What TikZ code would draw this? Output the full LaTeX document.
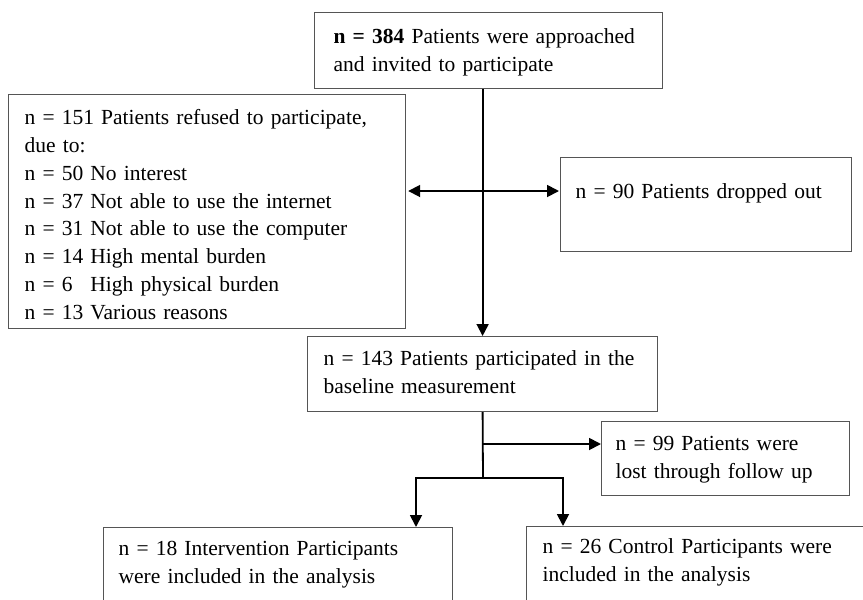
\documentclass[tikz,border=0pt]{standalone}
\usepackage{fontspec}
\setmainfont{Liberation Serif}
\definecolor{boxline}{RGB}{85, 85, 85}
\usetikzlibrary{arrows.meta, calc}
\tikzset{
    x=1pt, y=-1pt,
    flowbox/.style={draw=boxline, line width=1.2pt, anchor=north west,
        align=left, inner ysep=0pt, font=\fontsize{21.5}{27.8}\selectfont},
    flowline/.style={line width=1.8pt, black},
    flowarrow/.style={flowline, -{Triangle[length=12pt, width=12pt]}},
    twoarrow/.style={flowline, {Triangle[length=12pt, width=12pt]}-{Triangle[length=12pt, width=12pt]}},
}

\begin{document}
\begin{tikzpicture}
        \useasboundingbox (0, 0) rectangle (863, 600);
        \clip (0, 0) rectangle (863, 600);
        \node[flowbox, inner xsep=19pt, text width=310pt, text height=31pt,
            text depth=45pt] (approached) at (314, 12)
            {\textbf{n = 384} Patients were approached\\
            and invited to participate};
        \node[flowbox, inner xsep=16pt, text width=365pt, text height=30pt,
            text depth=204pt] (refused) at (8, 94)
            {n = 151 Patients refused to participate,\\
            due to:\\
            n = 50 No interest\\
            n = 37 Not able to use the internet\\
            n = 31 Not able to use the computer\\
            n = 14 High mental burden\\
            n = 6\hphantom{0} High physical burden\\
            n = 13 Various reasons};
        \node[flowbox, inner xsep=15pt, text width=261pt, text height=41pt,
            text depth=53pt] (dropped) at (560, 157)
            {n = 90 Patients dropped out};
        \node[flowbox, inner xsep=16pt, text width=318pt, text height=29pt,
            text depth=46pt] (baseline) at (307, 336)
            {n = 143 Patients participated in the\\
            baseline measurement};
        \node[flowbox, inner xsep=14pt, text width=220pt, text height=29pt,
            text depth=45pt] (lost) at (601, 421)
            {n = 99 Patients were\\
            lost through follow up};
        \node[flowbox, inner xsep=15pt, text width=319pt, text height=28pt,
            text depth=70pt] (intervention) at (103, 527)
            {n = 18 Intervention Participants\\
            were included in the analysis};
        \node[flowbox, inner xsep=16pt, text width=330pt, text height=27pt,
            text depth=70pt] (control) at (526, 526)
            {n = 26 Control Participants were\\
            included in the analysis};
        \coordinate (split) at (483, 191);
        \coordinate (lostjoin) at (483, 444);
        \coordinate (fork) at (483, 478);
        \coordinate (forkleft) at (416, 478);
        \coordinate (forkright) at (563, 478);
        \draw[flowarrow] (approached.south -| baseline.north) -- (baseline.north);
        \draw[twoarrow] ($(refused.east |- split) + (2, 0)$)
            -- ($(dropped.west |- split) + (-1, 0)$);
        \draw[flowline] (baseline.south) -- (fork);
        \draw[flowarrow] (lostjoin) -- (lost.west |- lostjoin);
        \draw[flowarrow] (fork) -- (forkleft) -- (forkleft |- intervention.north);
        \draw[flowarrow] (fork) -- (forkright) -- (forkright |- control.north);
    \end{tikzpicture}
\end{document}
